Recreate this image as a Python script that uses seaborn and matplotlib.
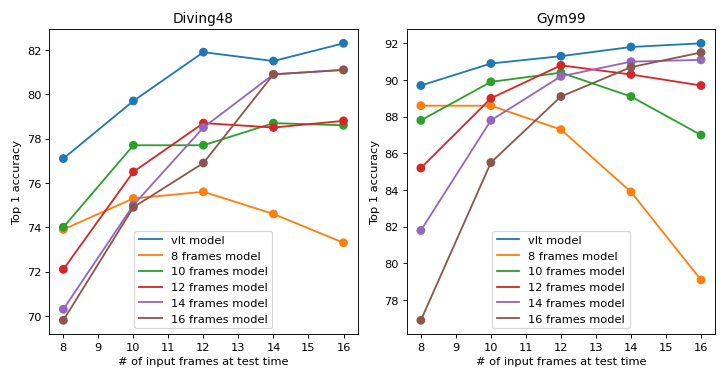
import pandas as pd
import seaborn as sns
from matplotlib import pyplot as plt

frames = [8, 10, 12, 14, 16]
models = ['vlt model', '8 frames model', '10 frames model', '12 frames model',
          '14 frames model', '16 frames model']

diving_vlt = [77.1, 79.7, 81.9, 81.5, 82.3]
diving_8 = [73.9, 75.3, 75.6, 74.6, 73.3]
diving_10 = [74.0, 77.7, 77.7, 78.7, 78.6]
diving_12 = [72.1, 76.5, 78.7, 78.5, 78.8]
diving_14 = [70.3, 75.0, 78.5, 80.9, 81.1]
diving_16 = [69.8, 74.9, 76.9, 80.9, 81.1]

gym_vlt = [89.7, 90.9, 91.3, 91.8, 92.0]
gym_8 = [88.6, 88.6, 87.3, 83.9, 79.1]
gym_10 = [87.8, 89.9, 90.4, 89.1, 87.0]
gym_12 = [85.2, 89.0, 90.8, 90.3, 89.7]
gym_14 = [81.8, 87.8, 90.2, 91.0, 91.1]
gym_16 = [76.9, 85.5, 89.1, 90.7, 91.5]

datasets = {
    'Diving48': [diving_vlt, diving_8, diving_10, diving_12, diving_14, diving_16],
    'Gym99': [gym_vlt, gym_8, gym_10, gym_12, gym_14, gym_16],
}

fig, axes = plt.subplots(1, 2, figsize=(8.87, 4.63), dpi=82)
palette = sns.color_palette('tab10', len(models))

for ax, (name, series) in zip(axes, datasets.items()):
    rows = []
    for model, values in zip(models, series):
        for f, v in zip(frames, values):
            rows.append({'frames': f, 'acc': v, 'model': model})
    df = pd.DataFrame(rows)
    sns.lineplot(data=df, x='frames', y='acc', hue='model', hue_order=models,
                 palette=palette, ax=ax, linewidth=1.6)
    sns.scatterplot(data=df, x='frames', y='acc', hue='model', hue_order=models,
                    palette=palette, ax=ax, s=60, edgecolor='none', legend=False, zorder=3)
    ax.set_title(name, fontsize=12)
    ax.set_xlabel('# of input frames at test time', fontsize=10)
    ax.set_ylabel('Top 1 accuracy', fontsize=10)
    ax.set_xticks(range(8, 17))
    ax.tick_params(labelsize=10)
    ax.legend(loc='lower center', title=None)

plt.tight_layout()
plt.savefig('out.png')
